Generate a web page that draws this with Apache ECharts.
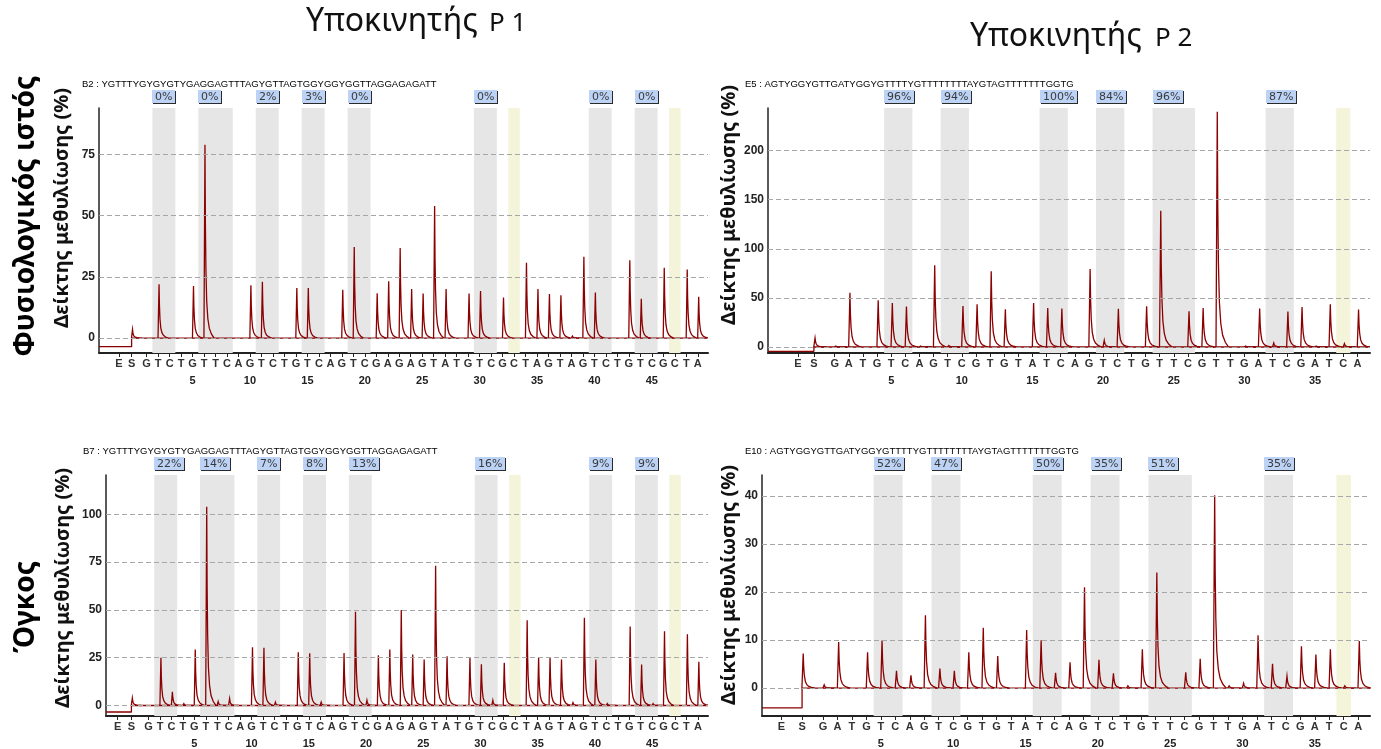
<!DOCTYPE html>
<html>
<head>
<meta charset="utf-8">
<title>Pyrograms P1 / P2</title>
<script src="https://cdn.jsdelivr.net/npm/echarts@6/dist/echarts.min.js"></script>
<style>
  html, body { margin: 0; background: #fff; }
  #main { width: 1381px; height: 749px; }
</style>
</head>
<body>
<div id="main"></div>
<script>
// dispensation orders (P1 assay used by B2 / B7, P2 assay used by E5 / E10)
const dispP1 = 'GTCTGTTCAGTCTGTCAGTCGAGAGTATGTCGCTAGTAGTCTGTCGCTA'.split('');
const dispP2 = 'GATGTCAGTCGTGTATCAGTCTGTTCGTTGATCGATCA'.split('');

// where the E and S dispensations sit, in dispensation units
const esB2 = [-1.42, -0.31];
const esE5 = [-1.6, -0.47];
const esB7 = [-1.7, -0.5];
const esE10 = [-1.88, -0.45];

// peak heights per dispensation (1..N)
const peaksB2 = [0, 22, 0, 0, 21.3, 79, 0, 0, 0, 21.6, 23, 0, 0, 20.5, 20.5, 0, 0, 19.7, 37.2, 0,
  18.3, 23.2, 36.8, 20, 18.2, 54, 20, 0, 18.2, 19.2, 0, 16.6, 0, 30.8, 20, 18, 17.5, 0.8, 33.2, 18.6,
  0, 0, 31.8, 16.1, 0, 28.7, 0, 28, 16.9];
const peaksB7 = [0, 24.9, 7.2, 1, 29.3, 103.9, 2, 3.6, 0, 30.5, 30.2, 1.7, 0, 27.8, 27.3, 1.7, 0, 27.4, 49, 2.7,
  26.2, 29.3, 49.9, 26.7, 24, 73, 25.7, 0, 25, 21.6, 2.7, 22.3, 0, 44.6, 25.4, 25.2, 24, 1.5, 45.8, 24,
  1, 0, 41.3, 21.4, 1, 38.8, 0, 37.2, 22.8];
const peaksE5 = [1, 55.1, 0, 47.6, 44.9, 41.2, 1, 83.3, 1.5, 41.8, 43.5, 77.2, 38.4, 0, 44.9, 39.8, 39.1, 0, 79.3, 6.8,
  38.8, 0, 41.5, 138.8, 0, 36.4, 39.8, 239.5, 0, 1, 39.1, 4.1, 36, 40.8, 1, 43.5, 3.4, 38.1];
const peaksE10 = [0.7, 9.6, 0, 7.5, 9.9, 3.6, 2.7, 15.2, 4.1, 3.6, 7.5, 12.6, 6.7, 0, 12.1, 10, 3.2, 5.4, 21, 5.9,
  3.1, 0.5, 8.1, 24.1, 0, 3.3, 6.1, 40.2, 0.5, 1, 11, 5.1, 2.5, 8.7, 7, 8.1, 0.5, 9.8];

// substrate peak and the level before it
const sPeak = [3.5, 9.2, 3.9, 7.2];
const preS = [-3.5, -4.4, -3.4, -4.1];

// CpG sites (grey) and bisulfite controls (yellow)
const cpgP1 = [[1.5, 3.5], [5.5, 8.5], [10.5, 12.5], [14.5, 16.5], [18.5, 20.5], [29.5, 31.5], [39.5, 41.5], [43.5, 45.5]];
const ctrlP1 = [[32.5, 33.5], [46.5, 47.5]];
const cpgP2 = [[4.5, 6.5], [8.5, 10.5], [15.5, 17.5], [19.5, 21.5], [23.5, 26.5], [31.5, 33.5]];
const ctrlP2 = [[36.5, 37.5]];

const pctB2 = ['0%', '0%', '2%', '3%', '0%', '0%', '0%', '0%'];
const pctB7 = ['22%', '14%', '7%', '8%', '13%', '16%', '9%', '9%'];
const pctE5 = ['96%', '94%', '100%', '84%', '96%', '87%'];
const pctE10 = ['52%', '47%', '50%', '35%', '51%', '35%'];

const yTicksB2 = [0, 25, 50, 75];
const yTicksB7 = [0, 25, 50, 75, 100];
const yTicksE5 = [0, 50, 100, 150, 200];
const yTicksE10 = [0, 10, 20, 30, 40];
const numTicksP1 = [5, 10, 15, 20, 25, 30, 35, 40, 45];
const numTicksP2 = [5, 10, 15, 20, 25, 30, 35];

const headers = [
  'B2 : YGTTTYGYGYGTYGAGGAGTTTAGYGTTAGTGGYGGYGGTTAGGAGAGATT',
  'E5 : AGTYGGYGTTGATYGGYGTTTTYGTTTTTTTTAYGTAGTTTTTTTGGTG',
  'B7 : YGTTTYGYGYGTYGAGGAGTTTAGYGTTAGTGGYGGYGGTTAGGAGAGATT',
  'E10 : AGTYGGYGTTGATYGGYGTTTTYGTTTTTTTTAYGTAGTTTTTTTGGTG'
];

const TRACE = '#8b0000';
const FONT = '"Liberation Sans", Arial, sans-serif';
const GREEK = '"Noto Sans", "DejaVu Sans", sans-serif';

// layout of the four pyrograms
const layout = [
  { grid: [99, 108, 609, 245], x: [-3.15, 49.89], y: [-6.1, 94], head: [82, 84], name: [62, 208] },
  { grid: [768, 108, 602, 245], x: [-3.72, 38.89], y: [-6.1, 243.3], head: [745, 84], name: [729, 205] },
  { grid: [106, 475, 602, 245], x: [-2.72, 49.88], y: [-5.5, 120.5], head: [83, 451], name: [63, 588] },
  { grid: [762, 475, 608, 245], x: [-3.22, 38.82], y: [-5.8, 44.4], head: [745, 451], name: [729, 585] }
];

const panelData = [
  { disp: dispP1, es: esB2, peaks: peaksB2, cpg: cpgP1, ctrl: ctrlP1, pct: pctB2, yt: yTicksB2, nt: numTicksP1 },
  { disp: dispP2, es: esE5, peaks: peaksE5, cpg: cpgP2, ctrl: ctrlP2, pct: pctE5, yt: yTicksE5, nt: numTicksP2 },
  { disp: dispP1, es: esB7, peaks: peaksB7, cpg: cpgP1, ctrl: ctrlP1, pct: pctB7, yt: yTicksB7, nt: numTicksP1 },
  { disp: dispP2, es: esE10, peaks: peaksE10, cpg: cpgP2, ctrl: ctrlP2, pct: pctE10, yt: yTicksE10, nt: numTicksP2 }
];

// shape of one pyrogram peak: [dx in dispensation units, fraction of height]
const PEAK_SHAPE = [[-0.01, 0], [0.08, 1], [0.115, 0.6], [0.16, 0.36], [0.23, 0.19], [0.33, 0.1],
  [0.46, 0.05], [0.65, 0.02], [0.88, 0]];

const measureCtx = document.createElement('canvas').getContext('2d');
measureCtx.font = '11px "DejaVu Sans"';

const grids = [], xAxes = [], yAxes = [], series = [], graphics = [];

layout.forEach(function (L, k) {
  const P = panelData[k];
  const pos = [P.es[0], P.es[1]].concat(P.disp.map(function (d, i) { return i + 1; }));
  const letters = ['E', 'S'].concat(P.disp);

  grids.push({ left: L.grid[0], top: L.grid[1], width: L.grid[2], height: L.grid[3] });

  xAxes.push({
    type: 'value', gridIndex: k, min: L.x[0], max: L.x[1], position: 'bottom',
    axisLine: { show: true, onZero: false, lineStyle: { color: '#222', width: 2 } },
    axisTick: { show: true, length: 4, customValues: pos, lineStyle: { color: '#222', width: 1 } },
    axisLabel: {
      customValues: pos, margin: 5, color: '#333', fontFamily: FONT, fontWeight: 'bold', fontSize: 11,
      formatter: function (v) {
        const i = pos.findIndex(function (p) { return Math.abs(p - v) < 1e-6; });
        return i >= 0 ? letters[i] : '';
      }
    },
    splitLine: { show: false }
  });
  xAxes.push({
    type: 'value', gridIndex: k, min: L.x[0], max: L.x[1], position: 'bottom',
    axisLine: { show: false, onZero: false }, axisTick: { show: false }, splitLine: { show: false },
    axisLabel: { customValues: P.nt, margin: 22, color: '#222', fontFamily: FONT, fontWeight: 'bold', fontSize: 11 }
  });
  yAxes.push({
    type: 'value', gridIndex: k, min: L.y[0], max: L.y[1],
    axisLine: { show: true, onZero: false, lineStyle: { color: '#222', width: 1.5 } },
    axisTick: { show: false },
    axisLabel: { customValues: P.yt, margin: 4, color: '#222', fontFamily: FONT, fontWeight: 'bold', fontSize: 12 },
    splitLine: { show: false }
  });

  const xi = 2 * k;

  // shaded CpG / control regions
  series.push({
    type: 'custom', xAxisIndex: xi, yAxisIndex: k, z: 1, silent: true,
    data: P.cpg.map(function (r) { return [r[0], r[1], 0]; })
      .concat(P.ctrl.map(function (r) { return [r[0], r[1], 1]; })),
    renderItem: function (params, api) {
      const cs = params.coordSys;
      const x0 = api.coord([api.value(0), 0])[0];
      const x1 = api.coord([api.value(1), 0])[0];
      return {
        type: 'rect',
        shape: { x: x0, y: cs.y, width: x1 - x0, height: cs.height },
        style: { fill: api.value(2) === 1 ? '#f4f4da' : '#e6e6e6' }
      };
    }
  });

  // baseline of the trace, with dashed grid lines
  series.push({
    type: 'line', xAxisIndex: xi, yAxisIndex: k, z: 3, silent: true, showSymbol: false,
    lineStyle: { color: TRACE, width: 1.3 },
    data: [[L.x[0], preS[k]], [P.es[1], preS[k]], [P.es[1], 0], [L.x[1], 0]],
    markLine: {
      silent: true, symbol: ['none', 'none'], label: { show: false },
      lineStyle: { color: '#a6a6a6', width: 1, type: [5, 3] },
      data: P.yt.map(function (v) { return { yAxis: v }; })
    }
  });

  // peaks
  series.push({
    type: 'custom', xAxisIndex: xi, yAxisIndex: k, z: 4, silent: true,
    data: [[P.es[1], sPeak[k]]].concat(P.peaks.map(function (h, i) { return [i + 1, h]; })),
    renderItem: function (params, api) {
      const x = api.value(0), h = api.value(1);
      if (!(h > 0.2)) return null;
      const pts = PEAK_SHAPE.map(function (p) { return api.coord([x + p[0], h * p[1]]); });
      return { type: 'polyline', shape: { points: pts }, style: { stroke: TRACE, lineWidth: 1.3, fill: null } };
    }
  });

  // methylation % boxes above the CpG sites
  series.push({
    type: 'custom', xAxisIndex: xi, yAxisIndex: k, z: 5, silent: true,
    data: P.cpg.map(function (r) { return [r[0], 0]; }),
    renderItem: function (params, api) {
      const txt = P.pct[params.dataIndex];
      const x = Math.round(api.coord([api.value(0), 0])[0]);
      const y = params.coordSys.y - 18;
      const w = Math.round(measureCtx.measureText(txt).width) + 6;
      const h = 13;
      return {
        type: 'group', children: [
          { type: 'rect', shape: { x: x + 1, y: y + 1, width: w, height: h }, style: { fill: '#2a2a2a' } },
          { type: 'rect', shape: { x: x, y: y, width: w, height: h }, style: { fill: '#bcd3f6' } },
          { type: 'text', x: x + 3, y: y + h / 2 + 0.5,
            style: { text: txt, font: '11px "DejaVu Sans"', fill: '#3a3a3a', verticalAlign: 'middle', align: 'left' } }
        ]
      };
    }
  });

  graphics.push({
    type: 'text', x: L.head[0], y: L.head[1],
    style: { text: headers[k], font: '9.5px ' + FONT, fill: '#000', verticalAlign: 'middle' }
  });
  graphics.push({
    type: 'text', x: L.name[0], y: L.name[1], rotation: Math.PI / 2,
    style: { text: 'Δείκτης μεθυλίωσης (%)', font: 'bold 20px ' + GREEK, fill: '#111', align: 'center', verticalAlign: 'middle' }
  });
});

graphics.push(
  { type: 'text', x: 306, y: 38, style: { text: 'Υποκινητής', font: '32px ' + GREEK, fill: '#111', verticalAlign: 'bottom' } },
  { type: 'text', x: 489, y: 37, style: { text: 'P 1', font: '26px ' + GREEK, fill: '#111', verticalAlign: 'bottom' } },
  { type: 'text', x: 970, y: 53, style: { text: 'Υποκινητής', font: '32px ' + GREEK, fill: '#111', verticalAlign: 'bottom' } },
  { type: 'text', x: 1155, y: 52, style: { text: 'P 2', font: '26px ' + GREEK, fill: '#111', verticalAlign: 'bottom' } },
  { type: 'text', x: 26, y: 216, rotation: Math.PI / 2,
    style: { text: 'Φυσιολογικός ιστός', font: 'bold 28px ' + GREEK, fill: '#000', align: 'center', verticalAlign: 'middle' } },
  { type: 'text', x: 26, y: 607, rotation: Math.PI / 2,
    style: { text: 'Όγκος', font: 'bold 28px ' + GREEK, fill: '#000', align: 'center', verticalAlign: 'middle' } }
);

const chart = echarts.init(document.getElementById('main'));
chart.setOption({
  animation: false,
  backgroundColor: '#fff',
  grid: grids,
  xAxis: xAxes,
  yAxis: yAxes,
  series: series,
  graphic: graphics
});
window.addEventListener('resize', function () { chart.resize(); });
</script>
</body>
</html>
